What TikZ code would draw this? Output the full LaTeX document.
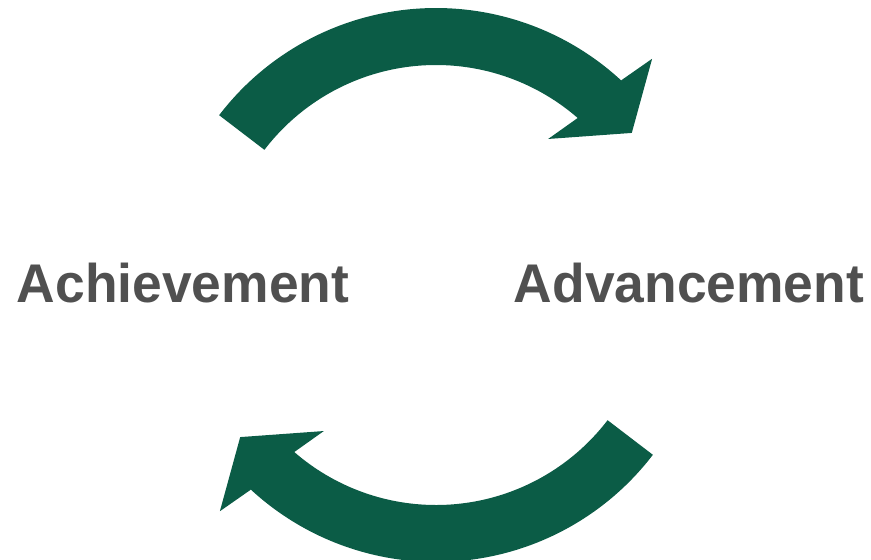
\documentclass[tikz,border=0pt]{standalone}
\usepackage{fontspec}
\setmainfont{Liberation Sans}[FakeStretch=0.98]
\definecolor{arrowgreen}{RGB}{11,92,70}
\definecolor{labelgray}{RGB}{80,80,80}
\tikzset{
  cyclearrow/.style={fill=arrowgreen, draw=none},
  label/.style={text=labelgray, font=\fontsize{15.5}{18}\selectfont\bfseries, inner sep=0pt, anchor=base}
}
\newcommand{\curvedarrowpath}{%
  (142.6:2.73) arc[start angle=142.6, end angle=47.3, radius=2.73]
  -- (45.8:3.10) -- (37.1:2.455) -- (51.7:1.81) -- (49:2.16)
  arc[start angle=49, end angle=142.6, radius=2.16] -- cycle}
\begin{document}
\begin{tikzpicture}
\useasboundingbox (0,0) rectangle (8.71,5.59);
\begin{scope}[shift={(4.36,2.78)}]
  \fill[cyclearrow] \curvedarrowpath;
\end{scope}
\begin{scope}[shift={(4.36,2.70)}, rotate=180]
  \fill[cyclearrow] \curvedarrowpath;
\end{scope}
\node[label] (ach) at (1.83,2.57) {Achievement};
\node[label] (adv) at (6.89,2.57) {Advancement};
\end{tikzpicture}
\end{document}
